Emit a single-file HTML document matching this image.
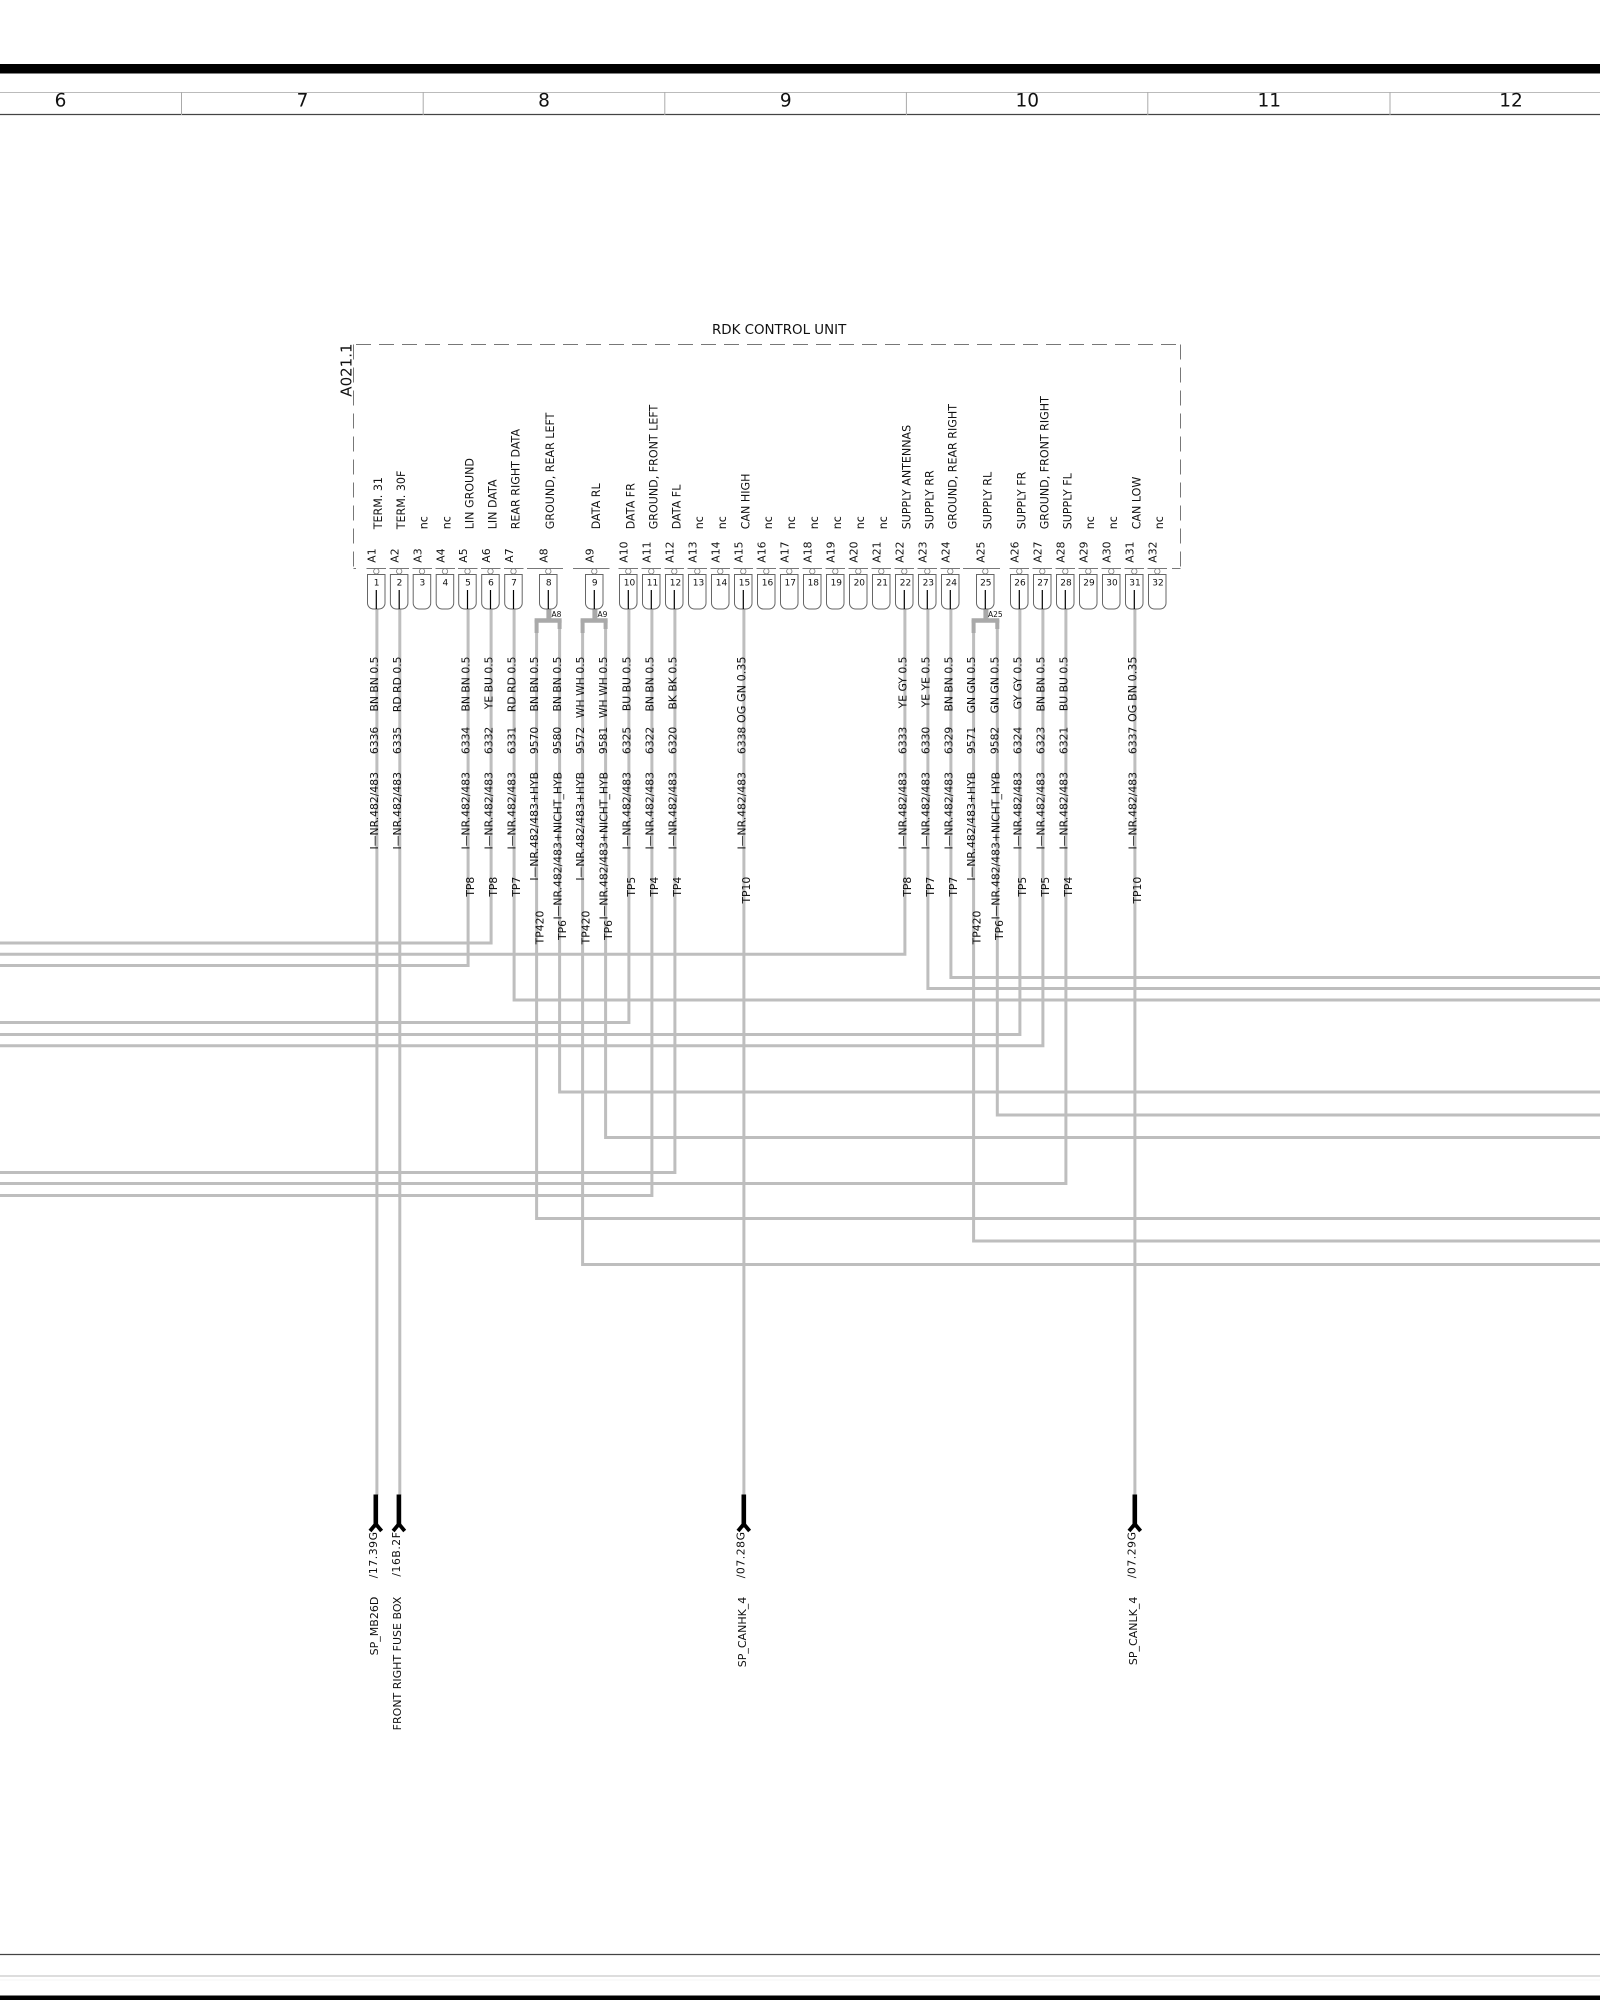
<!DOCTYPE html>
<html><head><meta charset="utf-8"><title>RDK Control Unit</title>
<style>html,body{margin:0;padding:0;background:#fff}svg{display:block}text{font-family:"DejaVu Sans","Liberation Sans",sans-serif;fill:#111}</style></head>
<body>
<svg xmlns="http://www.w3.org/2000/svg" width="1600" height="2000" viewBox="0 0 1600 2000">
<rect x="0" y="64" width="1600" height="9.5" fill="#000"/>
<path d="M0 92.5H1600" stroke="#bbb" stroke-width="1"/>
<path d="M0 114.5H1600" stroke="#444" stroke-width="1.2"/>
<path d="M181.5 92V115M423.2 92V115M664.8 92V115M906.4 92V115M1147.8 92V115M1390 92V115" stroke="#aaa" stroke-width="1"/>
<g font-size="18.5" text-anchor="middle">
<text x="60.5" y="106.5">6</text><text x="302.5" y="106.5">7</text><text x="544" y="106.5">8</text><text x="785.8" y="106.5">9</text><text x="1027.3" y="106.5">10</text><text x="1269.3" y="106.5">11</text><text x="1511" y="106.5">12</text>
</g>
<path d="M0 1954.5H1600" stroke="#444" stroke-width="1.2"/>
<path d="M0 1976H1600" stroke="#bbb" stroke-width="1"/>
<path d="M0 1980H1600" stroke="#f4f4f4" stroke-width="1"/>
<rect x="0" y="1995.5" width="1600" height="4.5" fill="#000"/>

<!-- wires -->
<g fill="none" stroke="#bebebe" stroke-width="3" stroke-linejoin="miter" transform="translate(.6 0)">
<path d="M376.3 609V1495M399.2 609V1495M743.3 609V1495M1134.3 609V1495"/>
<path d="M467.5 609V965.5H-1M490.5 609V943H-1M513.5 609V1000H1601M628.3 609V1022.5H-1M651.3 609V1195.5H-1M674.3 609V1172.5H-1M904.3 609V954.3H-1M927.3 609V988.5H1601M950.3 609V977.5H1601M1019.3 609V1034.5H-1M1042.3 609V1045.7H-1M1065.3 609V1183.5H-1"/>
<path d="M536 625V1218.5H1601M559 625V1092H1601M582 625V1264.5H1601M605 625V1137.5H1601M973 625V1241H1601M996.7 625V1115H1601"/>
</g>
<!-- forks -->
<g fill="none" stroke="#a9a9a9" transform="translate(.6 0)">
<path stroke-width="5" d="M548.3 609V620M594.3 609V620M985.3 609V620"/>
<path stroke-width="4.5" d="M534 620.5H561M580 620.5H607M971 620.5H998.7"/>
<path stroke-width="4" d="M536 620V633M559 620V629M582 620V633M605 620V629M973 620V633M996.7 620V629"/>
</g>
<g font-size="7.5"><text x="551.5" y="617">A8</text><text x="597.5" y="617">A9</text><text x="988" y="617">A25</text></g>

<!-- dashed housing -->
<g fill="none" stroke="#777" stroke-width="1">
<path stroke-dasharray="15 8" d="M356 344.5H1180.5"/>
<path stroke-dasharray="15 8" d="M353.5 344.5V568.5"/>
<path stroke-dasharray="15 8" d="M1180.5 344.5V568.5"/>
<path d="M353.5 568.5H356M366.5 568.5H386M389.5 568.5H409M412.5 568.5H432M435.5 568.5H455M458 568.5H477.5M481 568.5H500.5M504 568.5H523.5M527 568.5H563M573 568.5H609.5M618.5 568.5H638M641.5 568.5H661M664.5 568.5H684M687.5 568.5H707M710.5 568.5H730M733.5 568.5H753M756.5 568.5H776M779.5 568.5H799M802.5 568.5H822M825.5 568.5H845M848.5 568.5H868M871.5 568.5H891M894.5 568.5H914M917.5 568.5H937M940.5 568.5H960M963 568.5H1000M1009.5 568.5H1029M1032.5 568.5H1052M1055.5 568.5H1075M1078.5 568.5H1098M1101.5 568.5H1121M1124.5 568.5H1144M1147.5 568.5H1167M1172 568.5H1180.5"/>
</g>
<text x="712" y="334" font-size="13.4">RDK CONTROL UNIT</text>

<!-- connector cavities -->
<g fill="#fff" stroke="#666" stroke-width="1">
<path d="M367.5 574.5H385V603a6 6 0 0 1-6 6H373.5a6 6 0 0 1-6-6Z"/>
<path d="M390.4 574.5H407.9V603a6 6 0 0 1-6 6H396.4a6 6 0 0 1-6-6Z"/>
<path d="M413.2 574.5H430.7V603a6 6 0 0 1-6 6H419.2a6 6 0 0 1-6-6Z"/>
<path d="M436.2 574.5H453.7V603a6 6 0 0 1-6 6H442.2a6 6 0 0 1-6-6Z"/>
<path d="M458.7 574.5H476.2V603a6 6 0 0 1-6 6H464.7a6 6 0 0 1-6-6Z"/>
<path d="M481.7 574.5H499.2V603a6 6 0 0 1-6 6H487.7a6 6 0 0 1-6-6Z"/>
<path d="M504.7 574.5H522.2V603a6 6 0 0 1-6 6H510.7a6 6 0 0 1-6-6Z"/>
<path d="M539.5 574.5H557V603a6 6 0 0 1-6 6H545.5a6 6 0 0 1-6-6Z"/>
<path d="M585.5 574.5H603V603a6 6 0 0 1-6 6H591.5a6 6 0 0 1-6-6Z"/>
<path d="M619.5 574.5H637V603a6 6 0 0 1-6 6H625.5a6 6 0 0 1-6-6Z"/>
<path d="M642.5 574.5H660V603a6 6 0 0 1-6 6H648.5a6 6 0 0 1-6-6Z"/>
<path d="M665.5 574.5H683V603a6 6 0 0 1-6 6H671.5a6 6 0 0 1-6-6Z"/>
<path d="M688.5 574.5H706V603a6 6 0 0 1-6 6H694.5a6 6 0 0 1-6-6Z"/>
<path d="M711.5 574.5H729V603a6 6 0 0 1-6 6H717.5a6 6 0 0 1-6-6Z"/>
<path d="M734.5 574.5H752V603a6 6 0 0 1-6 6H740.5a6 6 0 0 1-6-6Z"/>
<path d="M757.5 574.5H775V603a6 6 0 0 1-6 6H763.5a6 6 0 0 1-6-6Z"/>
<path d="M780.5 574.5H798V603a6 6 0 0 1-6 6H786.5a6 6 0 0 1-6-6Z"/>
<path d="M803.5 574.5H821V603a6 6 0 0 1-6 6H809.5a6 6 0 0 1-6-6Z"/>
<path d="M826.5 574.5H844V603a6 6 0 0 1-6 6H832.5a6 6 0 0 1-6-6Z"/>
<path d="M849.5 574.5H867V603a6 6 0 0 1-6 6H855.5a6 6 0 0 1-6-6Z"/>
<path d="M872.5 574.5H890V603a6 6 0 0 1-6 6H878.5a6 6 0 0 1-6-6Z"/>
<path d="M895.5 574.5H913V603a6 6 0 0 1-6 6H901.5a6 6 0 0 1-6-6Z"/>
<path d="M918.5 574.5H936V603a6 6 0 0 1-6 6H924.5a6 6 0 0 1-6-6Z"/>
<path d="M941.5 574.5H959V603a6 6 0 0 1-6 6H947.5a6 6 0 0 1-6-6Z"/>
<path d="M976.5 574.5H994V603a6 6 0 0 1-6 6H982.5a6 6 0 0 1-6-6Z"/>
<path d="M1010.5 574.5H1028V603a6 6 0 0 1-6 6H1016.5a6 6 0 0 1-6-6Z"/>
<path d="M1033.5 574.5H1051V603a6 6 0 0 1-6 6H1039.5a6 6 0 0 1-6-6Z"/>
<path d="M1056.5 574.5H1074V603a6 6 0 0 1-6 6H1062.5a6 6 0 0 1-6-6Z"/>
<path d="M1079.5 574.5H1097V603a6 6 0 0 1-6 6H1085.5a6 6 0 0 1-6-6Z"/>
<path d="M1102.5 574.5H1120V603a6 6 0 0 1-6 6H1108.5a6 6 0 0 1-6-6Z"/>
<path d="M1125.5 574.5H1143V603a6 6 0 0 1-6 6H1131.5a6 6 0 0 1-6-6Z"/>
<path d="M1148.5 574.5H1166V603a6 6 0 0 1-6 6H1154.5a6 6 0 0 1-6-6Z"/>
</g>
<!-- pin circles -->
<g fill="#fff" stroke="#777" stroke-width="0.8">
<circle cx="376.3" cy="571.3" r="2.7"/><circle cx="399.2" cy="571.3" r="2.7"/><circle cx="422" cy="571.3" r="2.7"/><circle cx="445" cy="571.3" r="2.7"/><circle cx="467.5" cy="571.3" r="2.7"/><circle cx="490.5" cy="571.3" r="2.7"/><circle cx="513.5" cy="571.3" r="2.7"/><circle cx="548.3" cy="571.3" r="2.7"/><circle cx="594.3" cy="571.3" r="2.7"/><circle cx="628.3" cy="571.3" r="2.7"/><circle cx="651.3" cy="571.3" r="2.7"/><circle cx="674.3" cy="571.3" r="2.7"/><circle cx="697.3" cy="571.3" r="2.7"/><circle cx="720.3" cy="571.3" r="2.7"/><circle cx="743.3" cy="571.3" r="2.7"/><circle cx="766.3" cy="571.3" r="2.7"/><circle cx="789.3" cy="571.3" r="2.7"/><circle cx="812.3" cy="571.3" r="2.7"/><circle cx="835.3" cy="571.3" r="2.7"/><circle cx="858.3" cy="571.3" r="2.7"/><circle cx="881.3" cy="571.3" r="2.7"/><circle cx="904.3" cy="571.3" r="2.7"/><circle cx="927.3" cy="571.3" r="2.7"/><circle cx="950.3" cy="571.3" r="2.7"/><circle cx="985.3" cy="571.3" r="2.7"/><circle cx="1019.3" cy="571.3" r="2.7"/><circle cx="1042.3" cy="571.3" r="2.7"/><circle cx="1065.3" cy="571.3" r="2.7"/><circle cx="1088.3" cy="571.3" r="2.7"/><circle cx="1111.3" cy="571.3" r="2.7"/><circle cx="1134.3" cy="571.3" r="2.7"/><circle cx="1157.3" cy="571.3" r="2.7"/>
</g>
<!-- black contact lines -->
<path fill="none" stroke="#000" stroke-width="1.2" d="M376.3 590V609M399.2 590V609M467.5 590V609M490.5 590V609M513.5 590V609M548.3 590V609M594.3 590V609M628.3 590V609M651.3 590V609M674.3 590V609M743.3 590V609M904.3 590V609M927.3 590V609M950.3 590V609M985.3 590V609M1019.3 590V609M1042.3 590V609M1065.3 590V609M1134.3 590V609"/>
<!-- cavity numbers -->
<g font-size="9" text-anchor="middle" style="fill:#222">
<text x="376.6" y="585.5">1</text><text x="399.5" y="585.5">2</text><text x="422.4" y="585.5">3</text><text x="445.4" y="585.5">4</text><text x="468" y="585.5">5</text><text x="491" y="585.5">6</text><text x="514" y="585.5">7</text><text x="548.8" y="585.5">8</text><text x="594.8" y="585.5">9</text><text x="629.5" y="585.5">10</text><text x="652.5" y="585.5">11</text><text x="675.5" y="585.5">12</text><text x="698.5" y="585.5">13</text><text x="721.5" y="585.5">14</text><text x="744.5" y="585.5">15</text><text x="767.5" y="585.5">16</text><text x="790.2" y="585.5">17</text><text x="813.3" y="585.5">18</text><text x="836.3" y="585.5">19</text><text x="859.3" y="585.5">20</text><text x="882.2" y="585.5">21</text><text x="905.5" y="585.5">22</text><text x="928.3" y="585.5">23</text><text x="951.3" y="585.5">24</text><text x="985.8" y="585.5">25</text><text x="1020" y="585.5">26</text><text x="1043" y="585.5">27</text><text x="1066" y="585.5">28</text><text x="1089" y="585.5">29</text><text x="1112" y="585.5">30</text><text x="1135" y="585.5">31</text><text x="1158" y="585.5">32</text>
</g>

<!-- terminals -->
<g fill="none" stroke="#000">
<path stroke-width="4.6" d="M375.8 1494.5V1527M398.9 1494.5V1527M743.8 1494.5V1527M1134.8 1494.5V1527"/>
<path stroke-width="3.8" d="M370 1531L375.8 1524L381.6 1531M393.1 1531L398.9 1524L404.7 1531M738 1531L743.8 1524L749.6 1531M1129 1531L1134.8 1524L1140.6 1531"/>
</g>

<!-- rotated text: x=-screenY, y=screenX -->
<g transform="rotate(-90)" font-size="10.8">
<text x="-396.7" y="351.7" font-size="15">A021.1</text>
<!-- pin ids -->
<g>
<text x="-562.7" y="375.7">A1</text><text x="-562.7" y="398.7">A2</text><text x="-562.7" y="421.5">A3</text><text x="-562.7" y="444.5">A4</text><text x="-562.7" y="467">A5</text><text x="-562.7" y="490">A6</text><text x="-562.7" y="513">A7</text><text x="-562.7" y="547.7">A8</text><text x="-562.7" y="593.7">A9</text><text x="-562.7" y="627.7">A10</text><text x="-562.7" y="650.7">A11</text><text x="-562.7" y="673.7">A12</text><text x="-562.7" y="696.7">A13</text><text x="-562.7" y="719.7">A14</text><text x="-562.7" y="742.7">A15</text><text x="-562.7" y="765.7">A16</text><text x="-562.7" y="788.7">A17</text><text x="-562.7" y="811.7">A18</text><text x="-562.7" y="834.7">A19</text><text x="-562.7" y="857.7">A20</text><text x="-562.7" y="880.7">A21</text><text x="-562.7" y="903.7">A22</text><text x="-562.7" y="926.7">A23</text><text x="-562.7" y="949.7">A24</text><text x="-562.7" y="984.7">A25</text><text x="-562.7" y="1018.7">A26</text><text x="-562.7" y="1041.7">A27</text><text x="-562.7" y="1064.7">A28</text><text x="-562.7" y="1087.7">A29</text><text x="-562.7" y="1110.7">A30</text><text x="-562.7" y="1133.7">A31</text><text x="-562.7" y="1156.7">A32</text>
</g>
<!-- functions -->
<g font-size="11.1">
<text x="-529.3" y="382">TERM. 31</text><text x="-529.3" y="405">TERM. 30F</text><text x="-529.3" y="427.7">nc</text><text x="-529.3" y="450.7">nc</text><text x="-529.3" y="473.3">LIN GROUND</text><text x="-529.3" y="496.3">LIN DATA</text><text x="-529.3" y="519.3">REAR RIGHT DATA</text><text x="-529.3" y="554">GROUND, REAR LEFT</text><text x="-529.3" y="600">DATA RL</text><text x="-529.3" y="634.3">DATA FR</text><text x="-529.3" y="657.3">GROUND, FRONT LEFT</text><text x="-529.3" y="680.3">DATA FL</text><text x="-529.3" y="703">nc</text><text x="-529.3" y="726">nc</text><text x="-529.3" y="749.3">CAN HIGH</text><text x="-529.3" y="772">nc</text><text x="-529.3" y="795">nc</text><text x="-529.3" y="818">nc</text><text x="-529.3" y="841">nc</text><text x="-529.3" y="864">nc</text><text x="-529.3" y="887">nc</text><text x="-529.3" y="910.3">SUPPLY ANTENNAS</text><text x="-529.3" y="933.3">SUPPLY RR</text><text x="-529.3" y="956.3">GROUND, REAR RIGHT</text><text x="-529.3" y="991.3">SUPPLY RL</text><text x="-529.3" y="1025.3">SUPPLY FR</text><text x="-529.3" y="1048.3">GROUND, FRONT RIGHT</text><text x="-529.3" y="1071.3">SUPPLY FL</text><text x="-529.3" y="1094">nc</text><text x="-529.3" y="1117">nc</text><text x="-529.3" y="1140.3">CAN LOW</text><text x="-529.3" y="1163">nc</text>
</g>
<!-- wire labels: end-anchored -->
<g text-anchor="end">
<text x="-656.5" y="378">BN BN 0.5</text><text x="-726.7" y="378">6336</text><text x="-772" y="378">I—NR.482/483</text>
<text x="-656.5" y="401">RD RD 0.5</text><text x="-726.7" y="401">6335</text><text x="-772" y="401">I—NR.482/483</text>
<text x="-656.5" y="469.5">BN BN 0.5</text><text x="-726.7" y="469.5">6334</text><text x="-772" y="469.5">I—NR.482/483</text><text x="-876.7" y="474">TP8</text>
<text x="-656.5" y="492.5">YE BU 0.5</text><text x="-726.7" y="492.5">6332</text><text x="-772" y="492.5">I—NR.482/483</text><text x="-876.7" y="497">TP8</text>
<text x="-656.5" y="515.5">RD RD 0.5</text><text x="-726.7" y="515.5">6331</text><text x="-772" y="515.5">I—NR.482/483</text><text x="-876.7" y="520">TP7</text>
<text x="-656.5" y="538">BN BN 0.5</text><text x="-726.7" y="538">9570</text><text x="-772" y="538">I—NR.482/483+HYB</text><text x="-910.7" y="543.3">TP420</text>
<text x="-656.5" y="561">BN BN 0.5</text><text x="-726.7" y="561">9580</text><text x="-772" y="561.5">I—NR.482/483+NICHT_HYB</text><text x="-920" y="566">TP6</text>
<text x="-656.5" y="584">WH WH 0.5</text><text x="-726.7" y="584">9572</text><text x="-772" y="584">I—NR.482/483+HYB</text><text x="-910.7" y="589.3">TP420</text>
<text x="-656.5" y="607">WH WH 0.5</text><text x="-726.7" y="607">9581</text><text x="-772" y="607.5">I—NR.482/483+NICHT_HYB</text><text x="-920" y="612">TP6</text>
<text x="-656.5" y="630.3">BU BU 0.5</text><text x="-726.7" y="630.3">6325</text><text x="-772" y="630.3">I—NR.482/483</text><text x="-876.7" y="635">TP5</text>
<text x="-656.5" y="653.3">BN BN 0.5</text><text x="-726.7" y="653.3">6322</text><text x="-772" y="653.3">I—NR.482/483</text><text x="-876.7" y="658">TP4</text>
<text x="-656.5" y="676.3">BK BK 0.5</text><text x="-726.7" y="676.3">6320</text><text x="-772" y="676.3">I—NR.482/483</text><text x="-876.7" y="681">TP4</text>
<text x="-656.5" y="745.5" font-size="11.2">OG GN 0.35</text><text x="-726.7" y="745.5">6338</text><text x="-772" y="745.5">I—NR.482/483</text><text x="-876.7" y="750">TP10</text>
<text x="-656.5" y="906.3">YE GY 0.5</text><text x="-726.7" y="906.3">6333</text><text x="-772" y="906.3">I—NR.482/483</text><text x="-876.7" y="911">TP8</text>
<text x="-656.5" y="929.3">YE YE 0.5</text><text x="-726.7" y="929.3">6330</text><text x="-772" y="929.3">I—NR.482/483</text><text x="-876.7" y="934">TP7</text>
<text x="-656.5" y="952.3">BN BN 0.5</text><text x="-726.7" y="952.3">6329</text><text x="-772" y="952.3">I—NR.482/483</text><text x="-876.7" y="957">TP7</text>
<text x="-656.5" y="975">GN GN 0.5</text><text x="-726.7" y="975">9571</text><text x="-772" y="975">I—NR.482/483+HYB</text><text x="-910.7" y="980.5">TP420</text>
<text x="-656.5" y="998.5">GN GN 0.5</text><text x="-726.7" y="998.5">9582</text><text x="-772" y="999.5">I—NR.482/483+NICHT_HYB</text><text x="-920" y="1003">TP6</text>
<text x="-656.5" y="1021.3">GY GY 0.5</text><text x="-726.7" y="1021.3">6324</text><text x="-772" y="1021.3">I—NR.482/483</text><text x="-876.7" y="1026">TP5</text>
<text x="-656.5" y="1044.3">BN BN 0.5</text><text x="-726.7" y="1044.3">6323</text><text x="-772" y="1044.3">I—NR.482/483</text><text x="-876.7" y="1049">TP5</text>
<text x="-656.5" y="1067.3">BU BU 0.5</text><text x="-726.7" y="1067.3">6321</text><text x="-772" y="1067.3">I—NR.482/483</text><text x="-876.7" y="1072">TP4</text>
<text x="-656.5" y="1136.5" font-size="11.2">OG BN 0.35</text><text x="-726.7" y="1136.5">6337</text><text x="-772" y="1136.5">I—NR.482/483</text><text x="-876.7" y="1141">TP10</text>
<!-- references -->
<g letter-spacing=".55">
<text x="-1531.5" y="377">/17.39G</text>
<text x="-1531.5" y="400">/16B.2F</text>
<text x="-1531.5" y="744.5">/07.28G</text>
<text x="-1531.5" y="1135.5">/07.29G</text>
</g>
<g font-size="11">
<text x="-1596.7" y="378">SP_MB26D</text>
<text x="-1596.7" y="401">FRONT RIGHT FUSE BOX</text>
<text x="-1596.7" y="746">SP_CANHK_4</text>
<text x="-1596.7" y="1137">SP_CANLK_4</text>
</g>
</g>
</g>
</svg>
</body></html>
